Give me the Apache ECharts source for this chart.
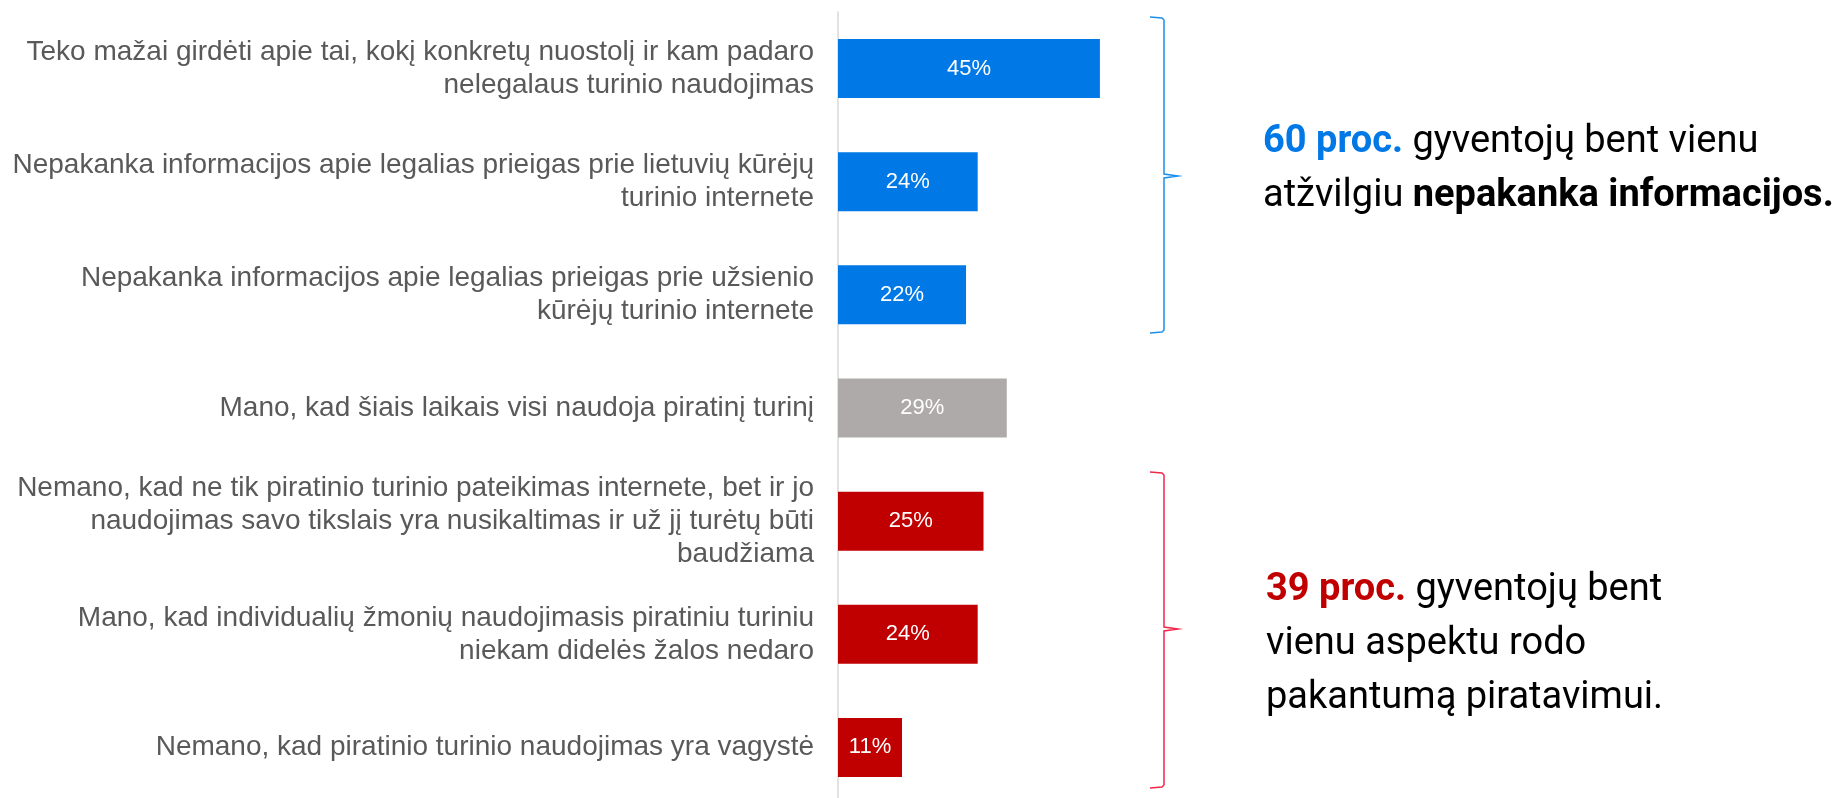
<!DOCTYPE html>
<html>
<head>
<meta charset="utf-8">
<script src="https://cdn.jsdelivr.net/npm/echarts@6/dist/echarts.min.js"></script>
<style>html,body{margin:0;padding:0;background:#fff;}#c{width:1842px;height:798px;}</style>
</head>
<body>
<div id="c"></div>
<script>
const categories = [
  "Teko mažai girdėti apie tai, kokį konkretų nuostolį ir kam padaro\nnelegalaus turinio naudojimas",
  "Nepakanka informacijos apie legalias prieigas prie lietuvių kūrėjų\nturinio internete",
  "Nepakanka informacijos apie legalias prieigas prie užsienio\nkūrėjų turinio internete",
  "Mano, kad šiais laikais visi naudoja piratinį turinį",
  "Nemano, kad ne tik piratinio turinio pateikimas internete, bet ir jo\nnaudojimas savo tikslais yra nusikaltimas ir už jį turėtų būti\nbaudžiama",
  "Mano, kad individualių žmonių naudojimasis piratiniu turiniu\nniekam didelės žalos nedaro",
  "Nemano, kad piratinio turinio naudojimas yra vagystė"
];
const values = [45, 24, 22, 29, 25, 24, 11];
const groups = ["info", "info", "info", "neutral", "tolerance", "tolerance", "tolerance"];
const groupColors = { info: "#0078E6", neutral: "#AEAAAA", tolerance: "#C00000" };

const chart = echarts.init(document.getElementById('c'));
chart.setOption({
  animation: false,
  grid: { left: 838, top: 12, width: 291, height: 792, outerBoundsMode: 'none', containLabel: false },
  xAxis: { type: 'value', min: 0, max: 50, show: false },
  yAxis: {
    type: 'category', data: categories, inverse: true,
    axisLine: { show: true, lineStyle: { color: '#D9D9D9', width: 1.5 } },
    axisTick: { show: false },
    axisLabel: {
      color: '#595959', fontFamily: 'Liberation Sans, Arial, sans-serif',
      fontSize: 28, lineHeight: 33, margin: 24, align: 'right'
    }
  },
  series: [{
    type: 'bar',
    barWidth: 59,
    data: values.map((v, i) => ({ value: v, itemStyle: { color: groupColors[groups[i]] } })),
    label: {
      show: true, position: 'inside', formatter: '{c}%',
      color: '#fff', fontSize: 22, fontFamily: 'Liberation Sans, Arial, sans-serif'
    }
  }],
  graphic: [
    { type: 'polyline', shape: { points: [[1150,17],[1162,18],[1164,20],[1164,174],[1178,176],[1164,178],[1164,330],[1162,332],[1150,333]] },
      style: { stroke: '#1E8FE8', lineWidth: 1.5, fill: null } },
    { type: 'polyline', shape: { points: [[1150,472],[1162,473],[1164,475],[1164,627],[1178,629],[1164,631],[1164,785],[1162,787],[1150,788]] },
      style: { stroke: '#F0284A', lineWidth: 1.5, fill: null } },
    { type: 'text', left: 1263, top: 123,
      style: {
        text: '{b|60 proc.}{n| gyventojų bent vienu}\n{n|atžvilgiu }{k|nepakanka informacijos.}',
        rich: {
          b: { fontFamily: 'Roboto', fontWeight: 'bold', fontSize: 38, fill: '#0078E6', lineHeight: 54 },
          n: { fontFamily: 'Roboto', fontSize: 38, fill: '#000', lineHeight: 54 },
          k: { fontFamily: 'Roboto', fontWeight: 'bold', fontSize: 38, fill: '#000', lineHeight: 54 }
        }
      } },
    { type: 'text', left: 1266, top: 571,
      style: {
        text: '{r|39 proc.}{n| gyventojų bent}\n{n|vienu aspektu rodo}\n{n|pakantumą piratavimui.}',
        rich: {
          r: { fontFamily: 'Roboto', fontWeight: 'bold', fontSize: 38, fill: '#C00000', lineHeight: 54 },
          n: { fontFamily: 'Roboto', fontSize: 38, fill: '#000', lineHeight: 54 }
        }
      } }
  ]
});
</script>
</body>
</html>
